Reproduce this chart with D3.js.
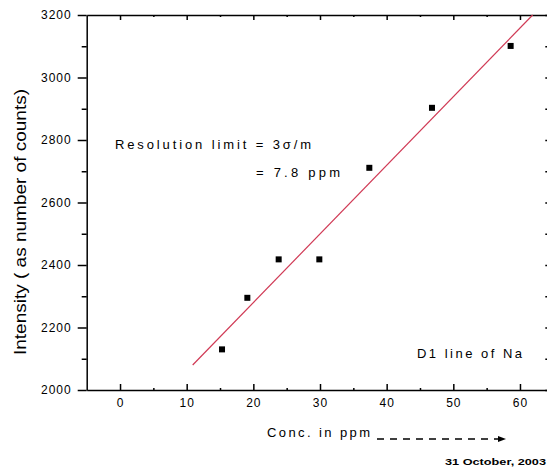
<!DOCTYPE html>
<html>
<head>
<meta charset="utf-8">
<script src="https://cdn.jsdelivr.net/npm/d3@7"></script>
<style>
  body { margin: 0; background: #fff; overflow: hidden; }
  svg { display: block; font-family: "Liberation Sans", Arial, sans-serif; }
  .axis path, .axis line { stroke: #000; stroke-width: 1.5; }
  .axis text { font-size: 12px; letter-spacing: 1px; fill: #000; }
</style>
</head>
<body>
<div id="chart"></div>
<script>
// calibration points
const concPpm = [15.3, 19.1, 23.8, 29.9, 37.4, 46.8, 58.6];
const intensity = [2130, 2295, 2418, 2418, 2711, 2903, 3101];

// fitted line end points
const fitConc = [10.9, 61.9];
const fitIntensity = [2080, 3200];

const xMajorTicks = [0, 10, 20, 30, 40, 50, 60];
const xMinorTicks = [5, 15, 25, 35, 45, 55];
const yMajorTicks = [2000, 2200, 2400, 2600, 2800, 3000, 3200];
const yMinorTicks = [2100, 2300, 2500, 2700, 2900, 3100];

const width = 547;
const height = 470;

const svg = d3.select("#chart").append("svg")
    .attr("width", width)
    .attr("height", height);

const x = d3.scaleLinear().domain([-5, 65]).range([86.7, 553.3]);
const y = d3.scaleLinear().domain([2000, 3200]).range([390, 15]);
const fmt = d3.format("d");

// left axis: majors with labels, minors outward and shorter
svg.append("g").attr("class", "axis")
    .attr("transform", `translate(${x(-5)},0)`)
    .call(d3.axisLeft(y).tickValues(yMajorTicks).tickFormat(fmt).tickSize(9).tickPadding(6).tickSizeOuter(0));
svg.append("g").attr("class", "axis")
    .attr("transform", `translate(${x(-5)},0)`)
    .call(d3.axisLeft(y).tickValues(yMinorTicks).tickSize(5).tickFormat("").tickSizeOuter(0))
    .select(".domain").remove();

// bottom axis, ticks pointing inward
svg.append("g").attr("class", "axis")
    .attr("transform", `translate(0,${y(2000)})`)
    .call(d3.axisBottom(x).tickValues(xMajorTicks).tickFormat(fmt).tickSize(-6).tickPadding(8).tickSizeOuter(0));
svg.append("g").attr("class", "axis")
    .attr("transform", `translate(0,${y(2000)})`)
    .call(d3.axisBottom(x).tickValues(xMinorTicks).tickSize(-2).tickFormat("").tickSizeOuter(0))
    .select(".domain").remove();

// top axis, no labels
svg.append("g").attr("class", "axis")
    .attr("transform", `translate(0,${y(3200)})`)
    .call(d3.axisTop(x).tickValues(xMajorTicks).tickSize(-5).tickFormat("").tickSizeOuter(0));
svg.append("g").attr("class", "axis")
    .attr("transform", `translate(0,${y(3200)})`)
    .call(d3.axisTop(x).tickValues(xMinorTicks).tickSize(-2).tickFormat("").tickSizeOuter(0))
    .select(".domain").remove();

// right axis sits just past the edge; only its tick ends show
const rightAxis = svg.append("g").attr("class", "axis")
    .attr("transform", `translate(${x(65)},0)`)
    .call(d3.axisRight(y).tickValues(yMajorTicks.concat(yMinorTicks)).tickSize(-8).tickFormat("").tickSizeOuter(0));
rightAxis.select(".domain").remove();
rightAxis.selectAll("line").attr("stroke-width", 1);

// fitted line
svg.append("line")
    .attr("x1", x(fitConc[0])).attr("y1", y(fitIntensity[0]))
    .attr("x2", x(fitConc[1])).attr("y2", y(fitIntensity[1]))
    .attr("stroke", "#d03a55")
    .attr("stroke-width", 1.2);

// data points
svg.append("g").selectAll("rect")
    .data(concPpm)
    .join("rect")
    .attr("x", d => x(d) - 3)
    .attr("y", (d, i) => y(intensity[i]) - 3)
    .attr("width", 6)
    .attr("height", 6)
    .attr("fill", "#000");

// annotations
svg.append("text")
    .attr("x", 115).attr("y", 149)
    .attr("textLength", 196).attr("lengthAdjust", "spacing")
    .style("font-size", "13px")
    .text("Resolution limit = 3σ/m");

svg.append("text")
    .attr("x", 256).attr("y", 177)
    .attr("textLength", 84).attr("lengthAdjust", "spacing")
    .style("font-size", "13px")
    .text("= 7.8 ppm");

svg.append("text")
    .attr("x", 417).attr("y", 358)
    .attr("textLength", 105).attr("lengthAdjust", "spacing")
    .style("font-size", "13px")
    .text("D1 line of Na");

svg.append("text")
    .attr("x", 267).attr("y", 437)
    .attr("textLength", 103).attr("lengthAdjust", "spacing")
    .style("font-size", "13px")
    .text("Conc. in ppm");

// dashed arrow after the x label
svg.append("line")
    .attr("x1", 377).attr("x2", 500)
    .attr("y1", 439).attr("y2", 439)
    .attr("stroke", "#000").attr("stroke-width", 1.5)
    .attr("stroke-dasharray", "7,6");
svg.append("path")
    .attr("d", "M498,436 L506,439 L498,442 Z")
    .attr("fill", "#000");

svg.append("text")
    .attr("x", 445).attr("y", 465)
    .attr("textLength", 101).attr("lengthAdjust", "spacingAndGlyphs")
    .style("font-size", "9px")
    .style("font-weight", "bold")
    .text("31 October, 2003");

// y axis title
svg.append("text")
    .attr("transform", "translate(26,222) rotate(-90)")
    .attr("text-anchor", "middle")
    .attr("textLength", 266).attr("lengthAdjust", "spacingAndGlyphs")
    .style("font-size", "16px")
    .text("Intensity ( as number of counts)");
</script>
</body>
</html>
